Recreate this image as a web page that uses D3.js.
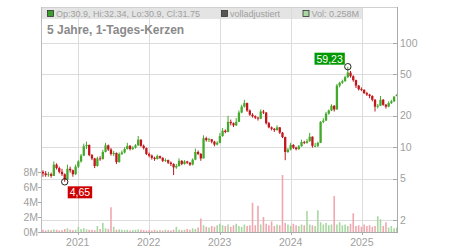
<!DOCTYPE html>
<html>
<head>
<meta charset="utf-8">
<script src="https://cdn.jsdelivr.net/npm/d3@7"></script>
<style>
  body { margin: 0; background: #fff; }
  svg { display: block; font-family: "Liberation Sans", Arial, sans-serif; }
</style>
</head>
<body>
<svg id="chart" width="450" height="250"></svg>
<script>
"use strict";

// one candle every two weeks, starting monday 29.06.2020
const startDate = new Date(2020, 5, 29);
const stepDays = 14;

const opens = [5.8, 5.6, 5.4, 5.5, 5.3, 6.8, 6.3, 5.8, 5.5, 4.9,
  6.2, 6.0, 5.5, 6.5, 7.3, 8.3, 10.2, 10.5, 8.4, 7.8,
  6.6, 7.8, 7.7, 9.0, 10.4, 9.5, 8.6, 8.8, 7.2, 8.6,
  8.9, 9.6, 10.3, 9.6, 9.9, 10.4, 11.8, 10.3, 9.8, 8.6,
  8.3, 7.9, 7.7, 8.2, 7.9, 7.4, 7.5, 7.1, 6.9, 6.4,
  6.6, 7.4, 6.9, 7.3, 7.1, 6.8, 7.6, 9.0, 8.6, 7.8,
  12.2, 11.7, 11.9, 11.3, 10.6, 11.0, 12.8, 14.4, 14.0, 17.5,
  17.0, 16.2, 17.5, 21.5, 24.5, 26.5, 22.5, 20.5, 19.8, 19.2,
  18.8, 22.0, 21.5, 17.0, 15.5, 15.0, 14.6, 15.5, 13.8, 12.5,
  9.0, 9.5, 10.5, 9.9, 9.6, 10.2, 11.2, 11.0, 11.4, 12.6,
  10.3, 10.3, 11.0, 17.5, 18.0, 21.0, 22.5, 25.0, 23.0, 39.0,
  41.5, 43.0, 47.0, 52.0, 48.0, 44.0, 39.0, 36.0, 35.5, 33.0,
  32.0, 31.0, 28.5, 24.5, 25.0, 28.5, 25.5, 24.5, 26.5, 27.5,
  30.9];
const highs = [6.0, 5.9, 5.8, 5.7, 7.3, 7.0, 6.5, 6.2, 5.6, 6.8,
  6.5, 6.1, 6.8, 7.5, 8.6, 10.8, 11.3, 10.6, 8.6, 7.9,
  8.1, 8.2, 9.4, 11.0, 10.6, 9.8, 9.2, 8.9, 8.9, 9.3,
  10.0, 11.0, 10.5, 10.2, 10.7, 12.8, 11.9, 10.6, 9.9, 8.9,
  8.5, 8.1, 8.5, 8.3, 8.0, 7.8, 7.6, 7.3, 7.0, 6.9,
  7.8, 7.5, 7.5, 7.4, 7.2, 7.8, 9.7, 9.3, 8.8, 13.0,
  12.6, 12.3, 12.0, 11.5, 11.4, 13.7, 15.3, 14.8, 20.0, 18.4,
  17.3, 19.0, 22.5, 25.5, 28.5, 26.8, 23.0, 21.2, 20.2, 19.5,
  23.0, 22.8, 21.7, 17.5, 15.8, 15.3, 16.2, 15.6, 14.0, 12.6,
  9.8, 11.0, 10.7, 10.1, 10.5, 11.8, 11.5, 12.0, 13.7, 12.7,
  11.0, 11.3, 17.8, 19.0, 21.8, 23.0, 25.8, 25.3, 40.5, 42.5,
  44.5, 48.5, 59.23, 54.0, 49.0, 44.5, 39.5, 37.5, 36.0, 34.0,
  32.5, 31.5, 29.0, 26.0, 31.0, 29.0, 26.0, 27.5, 28.5, 31.0,
  32.34];
const lows = [5.2, 5.2, 5.2, 5.1, 5.3, 6.1, 5.6, 5.3, 4.65, 4.9,
  5.7, 5.2, 5.4, 6.3, 7.1, 8.2, 9.6, 8.2, 7.5, 6.3,
  6.5, 7.4, 7.6, 8.9, 9.2, 8.3, 8.2, 6.9, 7.1, 8.4,
  8.7, 9.5, 9.3, 9.4, 9.7, 10.3, 10.1, 9.5, 8.4, 8.0,
  7.6, 7.4, 7.6, 7.7, 7.2, 7.2, 6.9, 6.6, 5.4, 6.2,
  6.5, 6.7, 6.8, 6.9, 6.6, 6.7, 7.5, 8.4, 7.4, 7.8,
  11.3, 11.2, 10.9, 10.2, 10.4, 10.9, 12.6, 13.6, 13.9, 16.2,
  15.6, 16.0, 17.4, 21.2, 24.0, 21.8, 20.0, 19.2, 18.6, 18.0,
  18.6, 20.8, 16.5, 15.2, 14.5, 14.0, 14.4, 13.4, 12.2, 7.5,
  8.8, 9.3, 9.6, 9.3, 9.4, 10.1, 10.7, 10.8, 11.3, 9.9,
  10.0, 10.0, 11.0, 17.0, 17.8, 20.5, 22.2, 22.0, 23.0, 37.5,
  40.5, 42.5, 46.0, 46.5, 42.5, 37.0, 35.0, 34.5, 32.5, 31.0,
  29.5, 27.5, 22.0, 23.5, 24.8, 25.0, 23.5, 24.2, 26.0, 27.2,
  30.9];
const closes = [5.6, 5.4, 5.5, 5.3, 6.8, 6.3, 5.8, 5.5, 4.9, 6.2,
  6.0, 5.5, 6.5, 7.3, 8.3, 10.2, 10.5, 8.4, 7.8, 6.6,
  7.8, 7.7, 9.0, 10.4, 9.5, 8.6, 8.8, 7.2, 8.6, 8.9,
  9.6, 10.3, 9.6, 9.9, 10.4, 11.8, 10.3, 9.8, 8.6, 8.3,
  7.9, 7.7, 8.2, 7.9, 7.4, 7.5, 7.1, 6.9, 6.4, 6.6,
  7.4, 6.9, 7.3, 7.1, 6.8, 7.6, 9.0, 8.6, 7.8, 12.2,
  11.7, 11.9, 11.3, 10.6, 11.0, 12.8, 14.4, 14.0, 17.5, 17.0,
  16.2, 17.5, 21.5, 24.5, 26.5, 22.5, 20.5, 19.8, 19.2, 18.8,
  22.0, 21.5, 17.0, 15.5, 15.0, 14.6, 15.5, 13.8, 12.5, 9.0,
  9.5, 10.5, 9.9, 9.6, 10.2, 11.2, 11.0, 11.4, 12.6, 10.3,
  10.3, 11.0, 17.5, 18.0, 21.0, 22.5, 25.0, 23.0, 39.0, 41.5,
  43.0, 47.0, 52.0, 48.0, 44.0, 39.0, 36.0, 35.5, 33.0, 32.0,
  31.0, 28.5, 24.5, 25.0, 28.5, 25.5, 24.5, 26.5, 27.5, 30.5,
  31.75];
// volume in millions
const volumes = [0.3, 0.2, 0.3, 0.25, 0.35, 0.3, 0.2, 0.25, 0.4, 0.5,
  0.3, 0.25, 0.3, 0.7, 0.4, 0.5, 0.35, 0.3, 0.3, 0.25,
  0.8, 0.4, 1.2, 0.5, 0.4, 3.3, 0.7, 0.3, 0.35, 0.3,
  0.25, 0.3, 0.2, 0.25, 0.3, 0.35, 0.3, 0.25, 0.2, 0.25,
  0.2, 0.3, 0.2, 0.25, 0.2, 0.3, 0.25, 0.2, 0.3, 0.7,
  0.3, 0.25, 0.3, 0.4, 0.3, 0.5, 0.4, 0.6, 1.8, 0.9,
  0.7, 0.6, 0.8, 0.7, 0.9, 1.1, 0.9, 0.8, 1.0, 0.7,
  0.9, 1.1, 0.8, 0.7, 1.0, 0.8, 0.9, 3.9, 0.9, 3.5,
  1.0, 2.0, 1.1, 0.9, 1.4, 0.8, 1.0, 0.9, 7.6, 1.2,
  1.0, 0.8, 1.1, 0.9, 0.8, 1.0, 0.9, 2.8, 1.0, 0.9,
  0.8, 2.9, 1.3, 1.0, 1.2, 0.9, 1.0, 4.8, 1.0, 1.3,
  0.9, 1.0, 0.8, 1.1, 2.5, 0.8, 0.9, 0.7, 1.0, 0.8,
  0.9, 0.7, 0.8, 2.1, 1.7, 0.8, 1.3, 0.6, 0.8, 0.5,
  0.6];

const priceTicks = [2, 5, 10, 20, 50, 100];
const volumeTicks = [0, 2, 4, 6, 8];
const yearTicks = [2021, 2022, 2023, 2024, 2025];

const titleText = "5 Jahre, 1-Tages-Kerzen";
const legendItems = [
  { label: "Op:30.9, Hi:32.34, Lo:30.9, Cl:31.75", fill: "#3aa02a", x: 47 },
  { label: "volladjustiert", fill: "#555", x: 221 },
  { label: "Vol: 0.258M", fill: "#a8d8a0", x: 302.5 },
];

const plotLeft = 41;
const plotRight = 397;
const plotTop = 7;
const plotBottom = 232;
const upColor = "#44a82a";
const downColor = "#c0161c";
const gridColor = "#dcdcdc";
const textColor = "#a0a0a0";

const svg = d3.select("#chart");

const candles = opens.map(function (o, i) {
  return {
    date: d3.timeDay.offset(startDate, stepDays * i + stepDays / 2),
    open: o,
    high: highs[i],
    low: lows[i],
    close: closes[i],
    vol: volumes[i] || 0,
  };
});

const x = d3
  .scaleTime()
  .domain([new Date(2020, 5, 26), new Date(2025, 6, 1)])
  .range([plotLeft, plotRight]);
// log price scale, fitted to the 2 and 100 lines
const y = d3.scaleLog().domain([2, 100]).range([220, 43]);
const yVol = d3.scaleLinear().domain([0, 30]).range([plotBottom, plotTop]);

// legend background (grid lines run over it)
svg
  .append("rect")
  .attr("x", plotLeft)
  .attr("y", plotTop)
  .attr("width", 362 - plotLeft)
  .attr("height", 12)
  .attr("fill", "#e4e4e4");

// grid
svg
  .append("g")
  .selectAll("line")
  .data(priceTicks)
  .join("line")
  .attr("x1", plotLeft)
  .attr("x2", plotRight)
  .attr("y1", (d) => Math.round(y(d)) + 0.5)
  .attr("y2", (d) => Math.round(y(d)) + 0.5)
  .attr("stroke", gridColor);

svg
  .append("g")
  .selectAll("line")
  .data(yearTicks)
  .join("line")
  .attr("x1", (d) => Math.round(x(new Date(d, 0, 1))) + 0.5)
  .attr("x2", (d) => Math.round(x(new Date(d, 0, 1))) + 0.5)
  .attr("y1", plotTop)
  .attr("y2", plotBottom)
  .attr("stroke", gridColor);

// frame
svg
  .append("rect")
  .attr("x", plotLeft + 0.5)
  .attr("y", plotTop + 0.5)
  .attr("width", plotRight - plotLeft)
  .attr("height", plotBottom - plotTop)
  .attr("fill", "none")
  .attr("stroke", "#d0d0d0");

// volume bars
const barW = 1.6;
svg
  .append("g")
  .selectAll("rect")
  .data(candles)
  .join("rect")
  .attr("x", (d) => x(d.date) - barW / 2)
  .attr("y", (d) => yVol(d.vol))
  .attr("width", barW)
  .attr("height", (d) => yVol(0) - yVol(d.vol))
  .attr("fill", (d) => (d.close >= d.open ? "#a8d8a0" : "#f0a8b0"));

// candles
const bodyW = 2.3;
const g = svg.append("g");
g.selectAll("line")
  .data(candles)
  .join("line")
  .attr("x1", (d) => x(d.date))
  .attr("x2", (d) => x(d.date))
  .attr("y1", (d) => y(d.high))
  .attr("y2", (d) => y(d.low))
  .attr("stroke", (d) => (d.close >= d.open ? upColor : downColor))
  .attr("stroke-width", 1);

g.selectAll("rect")
  .data(candles)
  .join("rect")
  .attr("x", (d) => x(d.date) - bodyW / 2)
  .attr("y", (d) => y(Math.max(d.open, d.close)))
  .attr("width", bodyW)
  .attr("height", (d) =>
    Math.max(0.8, y(Math.min(d.open, d.close)) - y(Math.max(d.open, d.close)))
  )
  .attr("fill", (d) => (d.close >= d.open ? upColor : downColor));

// right price axis
const rightAxis = svg.append("g");
rightAxis
  .append("line")
  .attr("x1", plotRight + 0.5)
  .attr("x2", plotRight + 0.5)
  .attr("y1", plotTop)
  .attr("y2", plotBottom + 1)
  .attr("stroke", "#aaa");
rightAxis
  .selectAll("line.tick")
  .data(priceTicks)
  .join("line")
  .attr("class", "tick")
  .attr("x1", plotRight - 4)
  .attr("x2", plotRight)
  .attr("y1", (d) => Math.round(y(d)) + 0.5)
  .attr("y2", (d) => Math.round(y(d)) + 0.5)
  .attr("stroke", "#aaa");
rightAxis
  .selectAll("text")
  .data(priceTicks)
  .join("text")
  .attr("x", plotRight + 3)
  .attr("y", (d) => y(d))
  .attr("dy", "0.35em")
  .attr("font-size", 10.5)
  .attr("fill", textColor)
  .text((d) => d);

// left volume axis
const leftAxis = svg.append("g");
leftAxis
  .append("line")
  .attr("x1", plotLeft + 0.5)
  .attr("x2", plotLeft + 0.5)
  .attr("y1", plotTop)
  .attr("y2", plotBottom + 1)
  .attr("stroke", "#bbb");
leftAxis
  .selectAll("line.tick")
  .data(volumeTicks)
  .join("line")
  .attr("class", "tick")
  .attr("x1", plotLeft - 3)
  .attr("x2", plotLeft)
  .attr("y1", (d) => Math.round(yVol(d)) + 0.5)
  .attr("y2", (d) => Math.round(yVol(d)) + 0.5)
  .attr("stroke", "#aaa");
leftAxis
  .selectAll("text")
  .data(volumeTicks)
  .join("text")
  .attr("x", plotLeft - 3)
  .attr("y", (d) => yVol(d))
  .attr("dy", "0.35em")
  .attr("text-anchor", "end")
  .attr("font-size", 10.5)
  .attr("fill", textColor)
  .text((d) => d + "M");

// bottom time axis
const bottomAxis = svg.append("g");
bottomAxis
  .append("line")
  .attr("x1", plotLeft)
  .attr("x2", plotRight + 1)
  .attr("y1", plotBottom + 0.5)
  .attr("y2", plotBottom + 0.5)
  .attr("stroke", "#aaa");
bottomAxis
  .selectAll("line.tick")
  .data(yearTicks)
  .join("line")
  .attr("class", "tick")
  .attr("x1", (d) => Math.round(x(new Date(d, 0, 1))) + 0.5)
  .attr("x2", (d) => Math.round(x(new Date(d, 0, 1))) + 0.5)
  .attr("y1", plotBottom)
  .attr("y2", plotBottom + 3)
  .attr("stroke", "#aaa");
bottomAxis
  .selectAll("text")
  .data(yearTicks)
  .join("text")
  .attr("x", (d) => x(new Date(d, 0, 1)))
  .attr("y", 245.5)
  .attr("text-anchor", "middle")
  .attr("font-size", 10.5)
  .attr("fill", textColor)
  .text((d) => d);

// legend
const legend = svg.append("g");
legendItems.forEach(function (item) {
  legend
    .append("rect")
    .attr("x", item.x + 0.5)
    .attr("y", 10.5)
    .attr("width", 6)
    .attr("height", 6)
    .attr("fill", item.fill)
    .attr("stroke", "#333")
    .attr("stroke-width", 0.8);
  legend
    .append("text")
    .attr("x", item.x + 9)
    .attr("y", 16.5)
    .attr("font-size", 9)
    .attr("fill", textColor)
    .text(item.label);
});

svg
  .append("text")
  .attr("x", 47)
  .attr("y", 34)
  .attr("font-size", 12)
  .attr("font-weight", "bold")
  .attr("fill", "#8a8a8a")
  .text(titleText);

// min / max markers
const minC = candles.reduce((a, b) => (b.low < a.low ? b : a));
const maxC = candles.reduce((a, b) => (b.high > a.high ? b : a));

function marker(cx, cy, value, color, placeLeftUp) {
  svg
    .append("circle")
    .attr("cx", cx)
    .attr("cy", cy)
    .attr("r", 3.2)
    .attr("fill", "none")
    .attr("stroke", "#222")
    .attr("stroke-width", 1);
  const label = d3.format(".2f")(value).replace(".", ",");
  const box = svg.append("rect").attr("fill", color);
  const t = svg
    .append("text")
    .attr("font-size", 10.5)
    .attr("fill", "#fff")
    .text(label);
  const w = t.node().getComputedTextLength() + 4;
  const h = 12;
  let bx = cx + 3;
  let by = cy + 4.5;
  if (placeLeftUp) {
    bx = cx - 3 - w;
    by = cy - 2 - h;
  }
  box.attr("x", bx).attr("y", by).attr("width", w).attr("height", h);
  t.attr("x", bx + 2).attr("y", by + 10);
}

marker(x(minC.date), y(minC.low), minC.low, "#cc0000", false);
marker(x(maxC.date), y(maxC.high), maxC.high, "#009900", true);
</script>
</body>
</html>
